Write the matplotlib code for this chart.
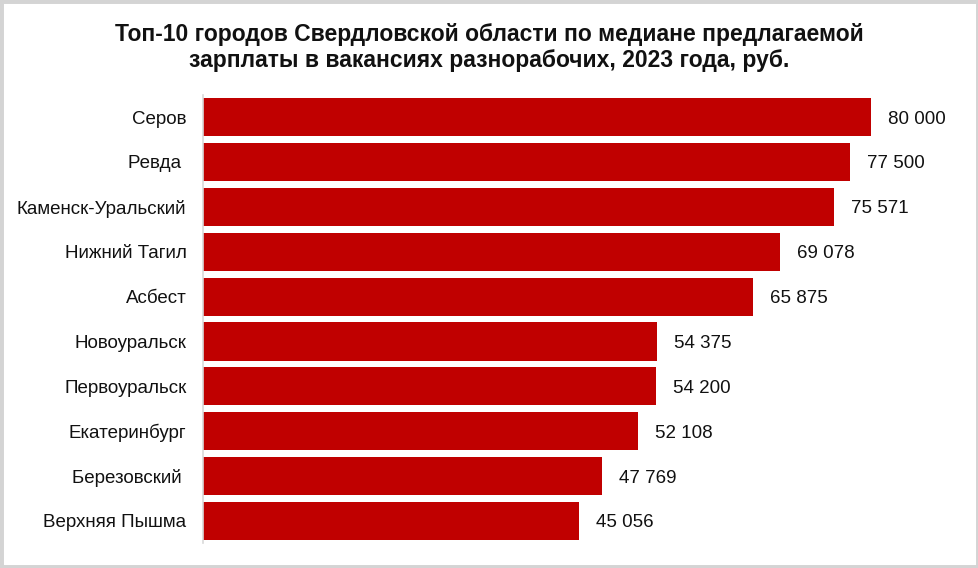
import matplotlib.pyplot as plt
from matplotlib.patches import Rectangle

# данные
cities = ['Серов', 'Ревда ', 'Каменск-Уральский', 'Нижний Тагил', 'Асбест',
          'Новоуральск', 'Первоуральск', 'Екатеринбург', 'Березовский ',
          'Верхняя Пышма']
salaries = [80000, 77500, 75571, 69078, 65875, 54375, 54200, 52108, 47769, 45056]

title = ('Топ-10 городов Свердловской области по медиане предлагаемой\n'
         'зарплаты в вакансиях разнорабочих, 2023 года, руб.')

fig = plt.figure(figsize=(9.79, 5.68), dpi=100, facecolor='white')
ax = fig.add_axes([0.2074, 0.0433, 0.768, 0.790])

ypos = list(range(len(cities)))
ax.barh(ypos, salaries, height=0.85, color='#C00000')
ax.set_ylim(len(cities) - 0.5, -0.5)
ax.set_xlim(0, 90000)

ax.set_yticks(ypos)
ax.set_yticklabels(cities, family=['Liberation Sans', 'DejaVu Sans'], fontsize=13.5, color='#111111')
ax.tick_params(axis='y', length=0, pad=12)
ax.set_xticks([])

for s in ['top', 'right', 'bottom']:
    ax.spines[s].set_visible(False)
ax.spines['left'].set_color('#d9d9d9')
ax.spines['left'].set_linewidth(1.2)

for y, v in zip(ypos, salaries):
    lbl = f'{v:,}'.replace(',', ' ')
    ax.annotate(lbl, xy=(v, y), xytext=(12, 0), textcoords='offset points',
                ha='left', va='center_baseline', fontsize=13.5, color='#111111',
                family=['Liberation Sans', 'DejaVu Sans'])

fig.text(0.5, 0.917, title, ha='center', va='center', fontsize=16.5,
         fontweight='bold', linespacing=1.18, color='#111111',
         family=['Liberation Sans', 'DejaVu Sans'])

# серая рамка вокруг картинки
fig.patches.append(Rectangle((0, 0), 1, 1, transform=fig.transFigure,
                             fill=False, edgecolor='#d4d4d4', linewidth=5))

fig.savefig('out.png', dpi=100)
